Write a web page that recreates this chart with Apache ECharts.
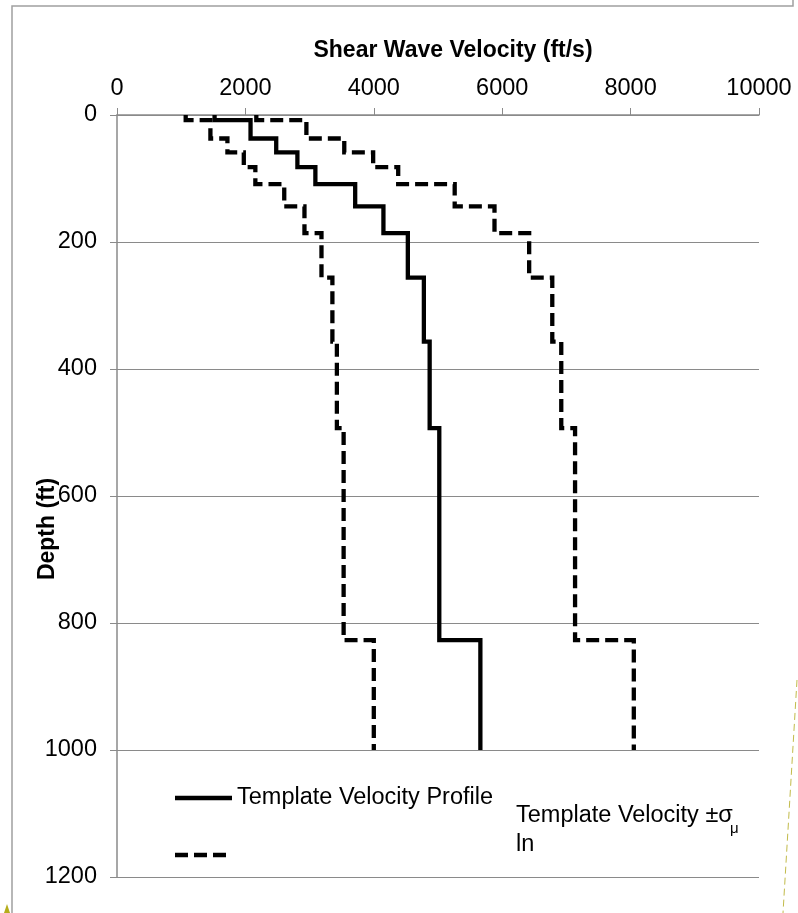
<!DOCTYPE html>
<html>
<head>
<meta charset="utf-8">
<script src="https://cdn.jsdelivr.net/npm/echarts@6/dist/echarts.min.js"></script>
<style>
  html, body { margin: 0; padding: 0; background: #ffffff; }
  #chart { width: 798px; height: 913px; }
</style>
</head>
<body>
<div id="chart"></div>
<script>
// Layer boundaries (ft) shared by the three velocity profiles
const layerDepths = [0, 8, 37, 59, 82, 109, 144, 186, 256, 357, 493, 827, 1000];
// Shear wave velocity per layer (ft/s)
const profileVs = [1520, 2080, 2480, 2810, 3090, 3710, 4150, 4530, 4780, 4870, 5020, 5660];
const upperVs   = [2170, 2950, 3540, 3990, 4380, 5260, 5880, 6420, 6780, 6920, 7135, 8050];
const lowerVs   = [1070, 1455, 1720, 1975, 2155, 2605, 2920, 3185, 3355, 3425, 3530, 4000];
// Axis ticks
const velocityTicks = [0, 2000, 4000, 6000, 8000, 10000];
const depthTicks = [0, 200, 400, 600, 800, 1000, 1200];

const profileName = 'Template Velocity Profile';
const boundName = 'Template Velocity ±σμ ln';

// Turn per-layer velocities into a stair-step polyline (constant within each layer)
function stairs(vs) {
  const pts = [];
  for (let i = 0; i < vs.length; i++) {
    pts.push([vs[i], layerDepths[i]]);
    pts.push([vs[i], layerDepths[i + 1]]);
  }
  return pts;
}

const FONT = '"Liberation Sans", Arial, sans-serif';
const AXIS_GREY = '#8a8a8a';
const DASH = [13, 6];
const TEXT_SIZE = 23.5;
const BOLD_SIZE = 23;
const plainNumber = (v) => String(v);

const chart = echarts.init(document.getElementById('chart'), null, { renderer: 'canvas' });

const option = {
  backgroundColor: '#ffffff',
  animation: false,
  grid: { left: 117, top: 115, width: 642, height: 762, containLabel: false },
  xAxis: {
    type: 'value',
    position: 'top',
    min: velocityTicks[0],
    max: velocityTicks[velocityTicks.length - 1],
    interval: velocityTicks[1] - velocityTicks[0],
    name: 'Shear Wave Velocity (ft/s)',
    nameLocation: 'middle',
    nameGap: 53,
    nameTextStyle: { fontFamily: FONT, fontSize: BOLD_SIZE, fontWeight: 'bold', color: '#000', padding: [0, 0, 0, 30] },
    axisLine: { show: true, lineStyle: { color: AXIS_GREY, width: 1.5 } },
    axisTick: { show: true, inside: false, length: 7, lineStyle: { color: AXIS_GREY, width: 1 } },
    axisLabel: { fontFamily: FONT, fontSize: TEXT_SIZE, color: '#000', margin: 14, formatter: plainNumber },
    splitLine: { show: false }
  },
  yAxis: {
    type: 'value',
    inverse: true,
    min: depthTicks[0],
    max: depthTicks[depthTicks.length - 1],
    interval: depthTicks[1] - depthTicks[0],
    axisLine: { show: true, lineStyle: { color: AXIS_GREY, width: 1.5 } },
    axisTick: { show: true, inside: false, length: 7, lineStyle: { color: AXIS_GREY, width: 1 } },
    axisLabel: { fontFamily: FONT, fontSize: TEXT_SIZE, color: '#000', margin: 20, formatter: plainNumber },
    splitLine: { show: true, lineStyle: { color: AXIS_GREY, width: 1.2 } }
  },
  series: [
    {
      name: profileName,
      type: 'line',
      data: stairs(profileVs),
      symbol: 'none',
      lineStyle: { color: '#000', width: 4.3, cap: 'butt', join: 'miter' },
      z: 3
    },
    {
      name: boundName,
      type: 'line',
      data: stairs(upperVs),
      symbol: 'none',
      lineStyle: { color: '#000', width: 4.3, type: DASH, cap: 'butt', join: 'miter' },
      z: 2
    },
    {
      name: boundName,
      type: 'line',
      data: stairs(lowerVs),
      symbol: 'none',
      lineStyle: { color: '#000', width: 4.3, type: DASH, cap: 'butt', join: 'miter' },
      z: 2
    }
  ],
  graphic: [
    // outer chart frame
    {
      type: 'polyline',
      shape: { points: [[12, 913], [12, 6], [793, 6], [793, 0]] },
      style: { stroke: '#a0a0a0', lineWidth: 1.5, fill: null },
      silent: true
    },
    // vertical axis title
    {
      type: 'text',
      x: 48, y: 529,
      rotation: Math.PI / 2,
      style: {
        text: 'Depth (ft)', fontFamily: FONT, fontSize: BOLD_SIZE, fontWeight: 'bold',
        fill: '#000', align: 'center', verticalAlign: 'middle'
      },
      z: 10
    },
    // legend: solid profile
    {
      type: 'line',
      shape: { x1: 175, y1: 798, x2: 232, y2: 798 },
      style: { stroke: '#000', lineWidth: 4.3 },
      z: 10
    },
    {
      type: 'text',
      x: 237, y: 798,
      style: {
        text: profileName, fontFamily: FONT, fontSize: TEXT_SIZE, fill: '#000',
        align: 'left', verticalAlign: 'middle'
      },
      z: 10
    },
    // legend: ± bounds
    {
      type: 'line',
      shape: { x1: 175, y1: 855, x2: 228, y2: 855 },
      style: { stroke: '#000', lineWidth: 4.3, lineDash: DASH },
      z: 10
    },
    {
      type: 'text',
      x: 516, y: 816,
      style: {
        text: 'Template Velocity ±σ', fontFamily: FONT, fontSize: TEXT_SIZE, fill: '#000',
        align: 'left', verticalAlign: 'middle'
      },
      z: 10
    },
    {
      type: 'text',
      x: 730, y: 829,
      style: {
        text: 'μ', fontFamily: FONT, fontSize: 15, fill: '#000',
        align: 'left', verticalAlign: 'middle'
      },
      z: 10
    },
    {
      type: 'text',
      x: 516, y: 845,
      style: {
        text: 'ln', fontFamily: FONT, fontSize: TEXT_SIZE, fill: '#000',
        align: 'left', verticalAlign: 'middle'
      },
      z: 10
    },
    // page decoration at the lower edges
    {
      type: 'line',
      shape: { x1: 797, y1: 680, x2: 783, y2: 913 },
      style: { stroke: '#c2bb4a', lineWidth: 1, lineDash: [7, 4] },
      silent: true
    },
    {
      type: 'polygon',
      shape: { points: [[4, 913], [7, 904], [10, 913]] },
      style: { fill: '#b5ad1c' },
      silent: true
    }
  ]
};

chart.setOption(option);
</script>
</body>
</html>
